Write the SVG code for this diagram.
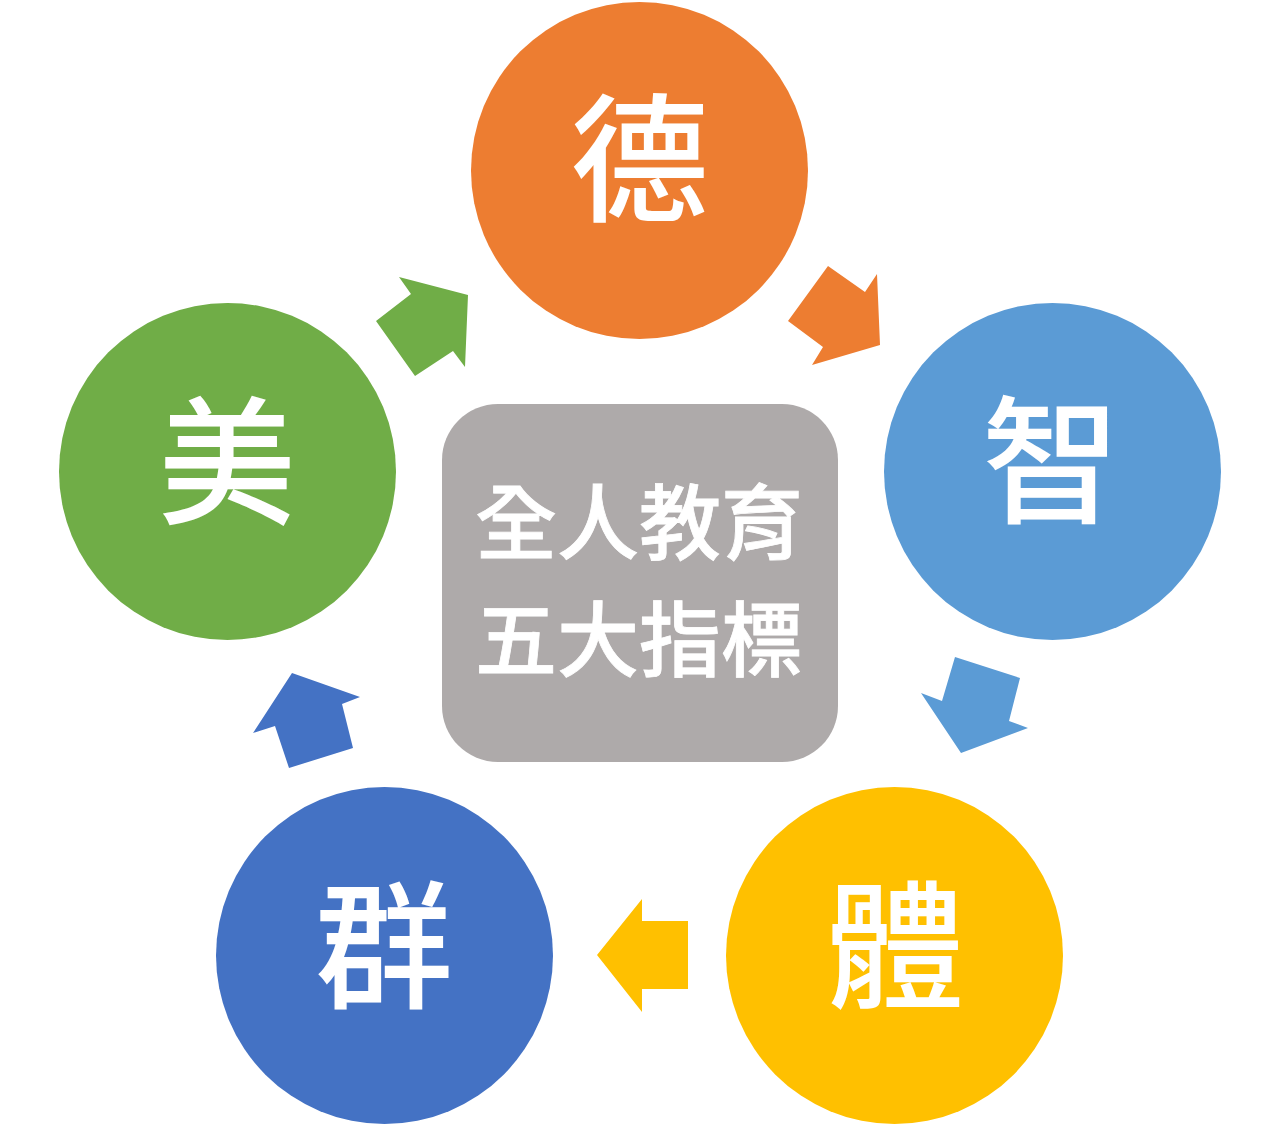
<svg xmlns="http://www.w3.org/2000/svg" width="1278" height="1142" viewBox="0 0 1278 1142">
<style>
.big{font-family:"Noto Sans CJK TC","Noto Sans CJK SC",sans-serif;font-size:138px;fill:#fff;text-anchor:middle;font-weight:500}
.mid{font-family:"Noto Sans CJK TC","Noto Sans CJK SC",sans-serif;font-size:82px;fill:#fff;stroke:#fff;stroke-width:0.8px;text-anchor:middle;font-weight:500}
</style>
<rect width="1278" height="1142" fill="#fff"/>
<g id="center">
<rect x="442" y="404" width="396" height="358" rx="56" fill="#AEAAAA"/>
<text class="mid" x="639" y="553">全人教育</text>
<text class="mid" x="639" y="670">五大指標</text>
</g>
<g id="de"><circle cx="639.5" cy="170.5" r="168.5" fill="#ED7D31"/><text class="big" x="639.5" y="210">德</text></g>
<g id="zhi"><circle cx="1052.5" cy="471.5" r="168.5" fill="#5B9BD5"/><text class="big" x="1051" y="512">智</text></g>
<g id="ti"><circle cx="894.5" cy="955.5" r="168.5" fill="#FFC000"/><text class="big" x="895" y="997">體</text></g>
<g id="qun"><circle cx="384.5" cy="955.5" r="168.5" fill="#4472C4"/><text class="big" x="384" y="997">群</text></g>
<g id="mei"><circle cx="227.5" cy="471.5" r="168.5" fill="#70AD47"/><text class="big" x="227" y="513">美</text></g>
<g id="connectors">
<polygon points="828,266 865,292 877,274 880,345 812,365 823,347 788,321" fill="#ED7D31"/>
<polygon points="955,657 1020,678 1009,721 1028,728 961,753 921,693 942,701" fill="#5B9BD5"/>
<polygon points="642,899 642,921 688,921 688,989 642,989 642,1012 597,955" fill="#FFC000"/>
<polygon points="292,673 360,697 342,704 353,748 289,768 275,726 253,733" fill="#4472C4"/>
<polygon points="399,277 468,295 465,367 453,351 415,376 376,321 411,294" fill="#70AD47"/>
</g>
</svg>
